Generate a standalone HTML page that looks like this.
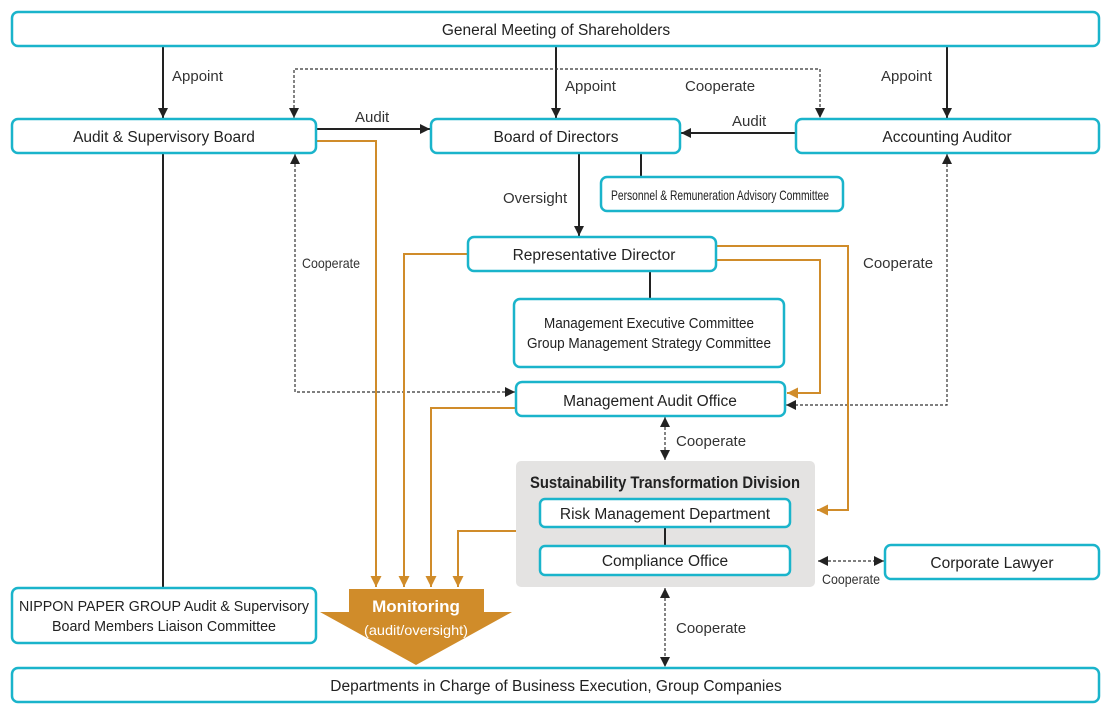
<!DOCTYPE html>
<html><head><meta charset="utf-8"><style>
html,body{margin:0;padding:0;background:#fff}
svg{display:block}
text{font-family:"Liberation Sans",sans-serif;fill:#222}
.b{fill:#fff;stroke:#1ab4cb;stroke-width:2.5}
.t{font-size:15.5px;text-anchor:middle}
.l{font-size:15px;fill:#333}
.k{stroke:#222;stroke-width:2;fill:none}
.d{stroke:#333;stroke-width:1.2;stroke-dasharray:3 2;fill:none}
.o{stroke:#d08c2a;stroke-width:2;fill:none}
</style></head><body>
<svg width="1112" height="712" viewBox="0 0 1112 712">
<defs>
<marker id="ak" viewBox="0 0 10 10" refX="10" refY="5" markerWidth="10" markerHeight="10" markerUnits="userSpaceOnUse" orient="auto-start-reverse"><path d="M0,0L10,5L0,10z" fill="#222"/></marker>
<marker id="ao" viewBox="0 0 10 10" refX="10" refY="5" markerWidth="11" markerHeight="11" markerUnits="userSpaceOnUse" orient="auto"><path d="M0,0L10,5L0,10z" fill="#d08c2a"/></marker>
</defs>
<rect x="516" y="461" width="299" height="126" rx="5" fill="#e4e3e2"/>
<line class="k" x1="163" y1="46" x2="163" y2="118" marker-end="url(#ak)"/>
<line class="k" x1="556" y1="46" x2="556" y2="118" marker-end="url(#ak)"/>
<line class="k" x1="947" y1="46" x2="947" y2="118" marker-end="url(#ak)"/>
<line class="k" x1="316" y1="129" x2="430" y2="129" marker-end="url(#ak)"/>
<line class="k" x1="796" y1="133" x2="681" y2="133" marker-end="url(#ak)"/>
<line class="k" x1="579" y1="153" x2="579" y2="236" marker-end="url(#ak)"/>
<line class="k" x1="641" y1="153" x2="641" y2="177"/>
<line class="k" x1="650" y1="271" x2="650" y2="299"/>
<line class="k" x1="163" y1="153" x2="163" y2="588"/>
<line class="k" x1="665" y1="527" x2="665" y2="546"/>
<polyline class="d" points="294,118 294,69 820,69 820,118" marker-start="url(#ak)" marker-end="url(#ak)"/>
<polyline class="d" points="295,154 295,392 515,392" marker-start="url(#ak)" marker-end="url(#ak)"/>
<polyline class="d" points="947,154 947,405 786,405" marker-start="url(#ak)" marker-end="url(#ak)"/>
<line class="d" x1="665" y1="417" x2="665" y2="460" marker-start="url(#ak)" marker-end="url(#ak)"/>
<line class="d" x1="665" y1="588" x2="665" y2="667" marker-start="url(#ak)" marker-end="url(#ak)"/>
<line class="d" x1="818" y1="561" x2="884" y2="561" marker-start="url(#ak)" marker-end="url(#ak)"/>
<polyline class="o" points="316,141 376,141 376,587" marker-end="url(#ao)"/>
<polyline class="o" points="468,254 404,254 404,587" marker-end="url(#ao)"/>
<polyline class="o" points="516,408 431,408 431,587" marker-end="url(#ao)"/>
<polyline class="o" points="516,531 458,531 458,587" marker-end="url(#ao)"/>
<polyline class="o" points="716,246 848,246 848,510 817,510" marker-end="url(#ao)"/>
<polyline class="o" points="716,260 820,260 820,393 787,393" marker-end="url(#ao)"/>
<path d="M349,589H484V612H512L416,665L320,612H349z" fill="#d08c2a"/>
<text x="416" y="612" style="font-size:17px;font-weight:bold;fill:#fff;text-anchor:middle">Monitoring</text>
<text x="416" y="635" style="font-size:14px;fill:#fff;text-anchor:middle" textLength="104" lengthAdjust="spacingAndGlyphs">(audit/oversight)</text>
<rect class="b" x="12" y="12" width="1087" height="34" rx="6"/>
<text class="t" x="556" y="35">General Meeting of Shareholders</text>
<rect class="b" x="12" y="119" width="304" height="34" rx="6"/>
<text class="t" x="164" y="142">Audit &amp; Supervisory Board</text>
<rect class="b" x="431" y="119" width="249" height="34" rx="6"/>
<text class="t" x="556" y="142">Board of Directors</text>
<rect class="b" x="796" y="119" width="303" height="34" rx="6"/>
<text class="t" x="947" y="142">Accounting Auditor</text>
<rect class="b" x="601" y="177" width="242" height="34" rx="6"/>
<text class="t" x="720" y="200" style="font-size:14px" textLength="218" lengthAdjust="spacingAndGlyphs">Personnel &amp; Remuneration Advisory Committee</text>
<rect class="b" x="468" y="237" width="248" height="34" rx="6"/>
<text class="t" x="594" y="260">Representative Director</text>
<rect class="b" x="514" y="299" width="270" height="68" rx="6"/>
<text class="t" x="649" y="328" style="font-size:15px" textLength="210" lengthAdjust="spacingAndGlyphs">Management Executive Committee</text>
<text class="t" x="649" y="348" style="font-size:15px" textLength="244" lengthAdjust="spacingAndGlyphs">Group Management Strategy Committee</text>
<rect class="b" x="516" y="382" width="269" height="34" rx="6"/>
<text class="t" x="650" y="406">Management Audit Office</text>
<text class="t" x="665" y="488" style="font-size:17px;font-weight:bold" textLength="270" lengthAdjust="spacingAndGlyphs">Sustainability Transformation Division</text>
<rect class="b" x="540" y="499" width="250" height="28" rx="5"/>
<text class="t" x="665" y="519">Risk Management Department</text>
<rect class="b" x="540" y="546" width="250" height="29" rx="5"/>
<text class="t" x="665" y="566">Compliance Office</text>
<rect class="b" x="885" y="545" width="214" height="34" rx="6"/>
<text class="t" x="992" y="568">Corporate Lawyer</text>
<rect class="b" x="12" y="588" width="304" height="55" rx="6"/>
<text class="t" x="164" y="611" style="font-size:14.5px" textLength="290" lengthAdjust="spacingAndGlyphs">NIPPON PAPER GROUP Audit &amp; Supervisory</text>
<text class="t" x="164" y="631" style="font-size:14.5px" textLength="224" lengthAdjust="spacingAndGlyphs">Board Members Liaison Committee</text>
<rect class="b" x="12" y="668" width="1087" height="34" rx="6"/>
<text class="t" x="556" y="691">Departments in Charge of Business Execution, Group Companies</text>
<text class="l" x="172" y="81">Appoint</text>
<text class="l" x="565" y="91">Appoint</text>
<text class="l" x="881" y="81">Appoint</text>
<text class="l" x="685" y="91">Cooperate</text>
<text class="l" x="355" y="122">Audit</text>
<text class="l" x="732" y="126">Audit</text>
<text class="l" x="503" y="203">Oversight</text>
<text class="l" x="302" y="268" style="font-size:14px" textLength="58" lengthAdjust="spacingAndGlyphs">Cooperate</text>
<text class="l" x="863" y="268">Cooperate</text>
<text class="l" x="676" y="446">Cooperate</text>
<text class="l" x="676" y="633">Cooperate</text>
<text class="l" x="822" y="584" style="font-size:14px" textLength="58" lengthAdjust="spacingAndGlyphs">Cooperate</text>
</svg>
</body></html>
